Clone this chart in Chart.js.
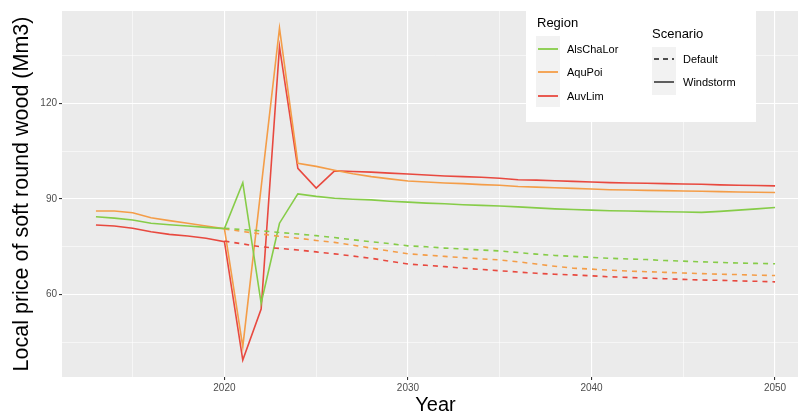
<!DOCTYPE html>
<html>
<head>
<meta charset="utf-8">
<script src="https://cdn.jsdelivr.net/npm/chart.js@4"></script>
<style>
  html, body { margin: 0; padding: 0; background: #fff; overflow: hidden; }
  #wrap { width: 811px; height: 416px; position: relative; }
</style>
</head>
<body>
<div id="wrap"><canvas id="my-chart" width="811" height="416"></canvas></div>
<script>
'use strict';

// *********** DATA ****************

let years = [];
for (let y = 2013; y <= 2050; y++) years.push(y);

let regions = ['AlsChaLor', 'AquPoi', 'AuvLim'];
let scenarios = ['Default', 'Windstorm'];
let regionColors = ['#86cc48', '#f49d48', '#e8493f'];

let yTicks = [60, 90, 120];
let xTicks = [2020, 2030, 2040, 2050];

// Windstorm scenario, 2013-2050
let windAlsChaLor = [84.4, 84.0, 83.4, 82.4, 81.9, 81.5, 81.1, 80.7, 95.1, 57.3,
  82.4, 91.6, 90.8, 90.2, 89.9, 89.7, 89.3, 89.0, 88.7, 88.5,
  88.2, 88.0, 87.8, 87.5, 87.2, 86.9, 86.7, 86.5, 86.3, 86.2,
  86.1, 86.0, 85.9, 85.8, 86.1, 86.5, 86.9, 87.3];
let windAquPoi = [86.2, 86.2, 85.7, 84.1, 83.2, 82.4, 81.5, 80.7, 43.7, 93.6,
  143.5, 101.2, 100.2, 99.0, 97.9, 97.0, 96.3, 95.6, 95.3, 95.0,
  94.8, 94.5, 94.3, 93.9, 93.7, 93.5, 93.3, 93.1, 92.9, 92.8,
  92.7, 92.6, 92.5, 92.4, 92.3, 92.2, 92.1, 92.0];
let windAuvLim = [81.85, 81.5, 80.8, 79.7, 78.9, 78.4, 77.7, 76.6, 39.5, 55.5,
  137.7, 99.6, 93.4, 98.8, 98.6, 98.4, 98.1, 97.8, 97.5, 97.2,
  97.0, 96.8, 96.5, 96.0, 95.9, 95.7, 95.5, 95.3, 95.1, 95.0,
  94.9, 94.8, 94.7, 94.6, 94.4, 94.3, 94.2, 94.1];

// Default scenario, 2020-2050 (same as windstorm before 2020)
let defAlsChaLor = [80.8, 80.4, 80.0, 79.5, 79.0, 78.5, 77.9, 77.2, 76.6, 76.0,
  75.3, 75.0, 74.6, 74.3, 74.0, 73.7, 73.2, 72.7, 72.3, 72.0,
  71.7, 71.4, 71.2, 71.0, 70.7, 70.5, 70.3, 70.1, 69.9, 69.8, 69.7];
let defAquPoi = [80.6, 79.8, 79.0, 78.3, 77.7, 77.0, 76.4, 75.5, 74.6, 73.7,
  72.8, 72.4, 72.0, 71.6, 71.2, 70.9, 70.3, 69.6, 68.9, 68.3,
  68.0, 67.7, 67.4, 67.2, 67.0, 66.8, 66.6, 66.4, 66.3, 66.1, 66.0];
let defAuvLim = [76.8, 75.9, 75.0, 74.5, 74.0, 73.4, 72.8, 72.1, 71.4, 70.5,
  69.6, 69.2, 68.8, 68.3, 67.9, 67.5, 67.1, 66.7, 66.4, 66.2,
  65.9, 65.6, 65.4, 65.2, 65.0, 64.8, 64.6, 64.5, 64.3, 64.2, 64.0];

// ********** HELPERS ********************

function toPoints(startYear, values) {
  return values.map((v, i) => ({ x: startYear + i, y: v }));
}

let windSeries = [windAlsChaLor, windAquPoi, windAuvLim];
let defSeries = [defAlsChaLor, defAquPoi, defAuvLim];

let datasets = [];
for (let i = 0; i < regions.length; i++) {
  datasets.push({
    label: regions[i] + ' Default',
    data: toPoints(2020, defSeries[i]),
    borderColor: regionColors[i],
    borderWidth: 1.6,
    borderDash: [5, 5],
    pointRadius: 0,
    tension: 0
  });
}
for (let i = 0; i < regions.length; i++) {
  datasets.push({
    label: regions[i] + ' Windstorm',
    data: toPoints(years[0], windSeries[i]),
    borderColor: regionColors[i],
    borderWidth: 1.6,
    pointRadius: 0,
    tension: 0
  });
}

let font = 'Liberation Sans, Arial, Helvetica, sans-serif';

// ********** PLUGINS ********************

let panelBg = {
  id: 'panelBg',
  beforeDraw(chart) {
    let a = chart.chartArea;
    let c = chart.ctx;
    c.save();
    c.fillStyle = '#ebebeb';
    c.fillRect(a.left, a.top, a.right - a.left, a.bottom - a.top);
    c.restore();
  }
};

let ggLegend = {
  id: 'ggLegend',
  afterDraw(chart) {
    let c = chart.ctx;
    c.save();
    c.fillStyle = '#ffffff';
    c.fillRect(526, 6, 230, 116);

    c.fillStyle = '#000';
    c.font = '13px ' + font;
    c.textBaseline = 'alphabetic';
    c.fillText('Region', 537, 27);
    c.fillText('Scenario', 652, 38);

    // region keys
    c.fillStyle = '#f2f2f2';
    c.fillRect(536, 36, 24, 71);
    c.font = '11px ' + font;
    c.textBaseline = 'middle';
    let keyY = [49, 72, 96];
    for (let i = 0; i < regions.length; i++) {
      c.strokeStyle = regionColors[i];
      c.lineWidth = 1.8;
      c.beginPath();
      c.moveTo(538, keyY[i]);
      c.lineTo(558, keyY[i]);
      c.stroke();
      c.fillStyle = '#000';
      c.fillText(regions[i], 567, keyY[i] + 0.5);
    }

    // scenario keys
    c.fillStyle = '#f2f2f2';
    c.fillRect(652, 47, 24, 48);
    let scY = [59, 82];
    c.strokeStyle = '#4d4d4d';
    c.lineWidth = 1.8;
    c.setLineDash([5, 4]);
    c.beginPath();
    c.moveTo(654, scY[0]);
    c.lineTo(674, scY[0]);
    c.stroke();
    c.setLineDash([]);
    c.beginPath();
    c.moveTo(654, scY[1]);
    c.lineTo(674, scY[1]);
    c.stroke();
    c.fillStyle = '#000';
    for (let i = 0; i < scenarios.length; i++) {
      c.fillText(scenarios[i], 683, scY[i] + 0.5);
    }
    c.restore();
  }
};

// ********** CHART ********************

let ctx = document.getElementById('my-chart').getContext('2d');

function gridWidth(ctxt, majors) {
  let v = ctxt.tick ? ctxt.tick.value : null;
  return majors.includes(v) ? 1.1 : 0.55;
}

new Chart(ctx, {
  type: 'line',
  data: { datasets: datasets },
  plugins: [panelBg, ggLegend],
  options: {
    responsive: false,
    animation: false,
    layout: { padding: { left: 0, top: 11, right: 2, bottom: 0 } },
    plugins: {
      legend: { display: false },
      tooltip: { enabled: false }
    },
    scales: {
      x: {
        type: 'linear',
        min: 2011.15,
        max: 2051.85,
        afterBuildTicks(scale) {
          scale.ticks = [2015, 2020, 2025, 2030, 2035, 2040, 2045, 2050].map(v => ({ value: v }));
        },
        afterFit(scale) { scale.height = 39; },
        border: { display: false },
        grid: {
          color: '#ffffff',
          lineWidth: (c) => gridWidth(c, xTicks),
          drawTicks: true,
          tickLength: 3,
          tickColor: (c) => xTicks.includes(c.tick && c.tick.value) ? '#333' : 'rgba(0,0,0,0)'
        },
        ticks: {
          autoSkip: false,
          maxRotation: 0,
          padding: 2,
          color: '#4d4d4d',
          font: { family: font, size: 10 },
          callback: (v) => xTicks.includes(v) ? String(v) : ''
        },
        title: {
          display: true,
          text: 'Year',
          color: '#000',
          font: { family: font, size: 20 },
          padding: { top: 0, bottom: -1 }
        }
      },
      y: {
        type: 'linear',
        min: 34.2,
        max: 148.9,
        afterBuildTicks(scale) {
          scale.ticks = [45, 60, 75, 90, 105, 120, 135].map(v => ({ value: v }));
        },
        afterFit(scale) { scale.width = 62; },
        border: { display: false },
        grid: {
          color: '#ffffff',
          lineWidth: (c) => gridWidth(c, yTicks),
          drawTicks: true,
          tickLength: 3,
          tickColor: (c) => yTicks.includes(c.tick && c.tick.value) ? '#333' : 'rgba(0,0,0,0)'
        },
        ticks: {
          autoSkip: false,
          padding: 2,
          color: '#4d4d4d',
          font: { family: font, size: 10 },
          callback: (v) => yTicks.includes(v) ? String(v) : ''
        },
        title: {
          display: true,
          text: 'Local price of soft round wood (Mm3)',
          color: '#000',
          font: { family: font, size: 21.5 },
          padding: { top: 9, bottom: 0 }
        }
      }
    }
  }
});
</script>
</body>
</html>
